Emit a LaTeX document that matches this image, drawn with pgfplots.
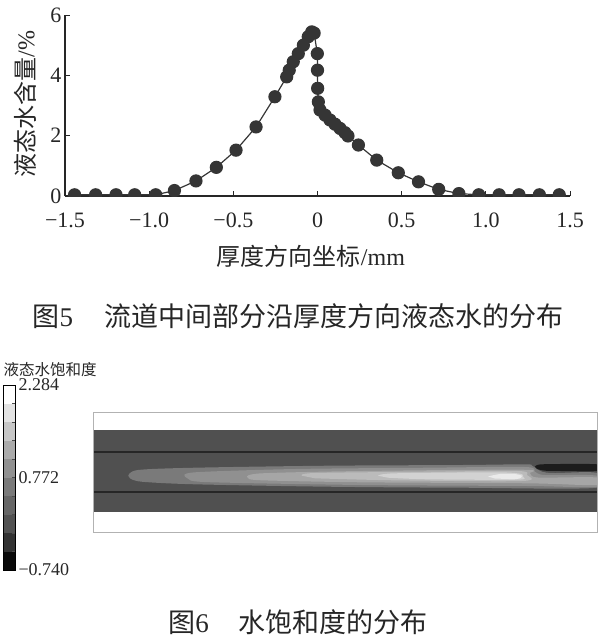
\documentclass[border=0pt]{standalone}
\usepackage{fontspec}
\setmainfont{Liberation Serif}
\newfontfamily\cjk{Noto Sans CJK SC}
\usepackage{pgfplots}
\pgfplotsset{compat=1.18}

\definecolor{mk}{HTML}{353535}
\definecolor{bg}{HTML}{505050}
\definecolor{lvA}{HTML}{7A7A7A}
\definecolor{lvB}{HTML}{909090}
\definecolor{lvC}{HTML}{A6A6A6}
\definecolor{lvD}{HTML}{BBBBBB}
\definecolor{lvE}{HTML}{D2D2D2}
\definecolor{lvF}{HTML}{EAEAEA}
\definecolor{blob}{HTML}{1C1C1C}

\begin{document}
\begin{tikzpicture}
\path[use as bounding box] (0,0) rectangle (600pt,-637pt);

% ---- figure 5: liquid water across the thickness
\begin{axis}[
    at={(65pt,-196pt)}, anchor=south west, scale only axis,
    width=505pt, height=181pt,
    xmin=-1.5, xmax=1.5, ymin=0, ymax=6,
    axis x line*=bottom, axis y line*=left,
    axis line style={line width=1.1pt, black!85},
    tick align=inside, major tick length=5pt,
    tick style={line width=0.9pt, black!85},
    xtick={-1.5,-1,-0.5,0,0.5,1,1.5},
    xticklabels={−1.5,−1.0,−0.5,0,0.5,1.0,1.5},
    ytick={0,2,4,6}, yticklabels={0,2,4,6},
    ticklabel style={font=\fontsize{22}{24}\selectfont, text=black!85},
    xticklabel style={yshift=-13pt},
    xlabel={{\cjk 厚度方向坐标}/mm},
    ylabel={{\cjk 液态水含量}/\%},
    label style={font=\fontsize{24}{26}\selectfont, text=black!85},
    xlabel style={at={(axis description cs:0.487,-0.331)}, anchor=center},
    ylabel style={at={(axis description cs:-0.079,0.508)}, anchor=center},
    clip marker paths=true,
]
\addplot[color=mk, line width=1.2pt, mark=*, mark size=6pt,
         mark options={fill=mk, draw=none}] coordinates {
    (-1.443,0.04) (-1.318,0.04) (-1.197,0.04) (-1.086,0.04) (-0.961,0.04)
    (-0.850,0.18) (-0.722,0.50) (-0.601,0.95) (-0.484,1.52) (-0.365,2.29)
    (-0.253,3.29) (-0.183,3.95) (-0.168,4.17) (-0.144,4.45) (-0.114,4.72)
    (-0.084,5.00) (-0.055,5.28) (-0.034,5.44) (-0.020,5.40) (-0.001,4.72)
    (0.000,4.17) (0.001,3.57) (0.005,3.12) (0.015,2.85) (0.045,2.68)
    (0.074,2.52) (0.104,2.38) (0.134,2.24) (0.163,2.10) (0.181,1.99)
    (0.243,1.69) (0.352,1.19) (0.480,0.77) (0.600,0.47) (0.720,0.22)
    (0.840,0.08) (0.958,0.04) (1.079,0.04) (1.197,0.04) (1.318,0.04)
    (1.436,0.04)
};
\end{axis}

\node[font=\fontsize{27}{30}\selectfont, text=black!85] at (298pt,-316pt)
    {{\cjk 图}5\hspace{1.15em}{\cjk 流道中间部分沿厚度方向液态水的分布}};

% ---- figure 6: saturation field
\node[anchor=west, font=\fontsize{15.5}{17}\selectfont, text=black!85] at (0pt,-370pt)
    {\cjk 液态水饱和度};

\begin{axis}[
    at={(3pt,-570pt)}, anchor=south west, scale only axis,
    width=12pt, height=185pt,
    xmin=0, xmax=1, ymin=-0.740, ymax=2.284,
    xtick=\empty,
    ytick={-0.740,0.772,2.284}, yticklabels={−0.740,0.772,2.284},
    yticklabel pos=right, ytick pos=right,
    minor ytick={-0.4376,-0.1352,0.1672,0.4696,1.0744,1.3768,1.6792,1.9816},
    tick align=inside, major tick length=3pt, minor tick length=3pt,
    tick style={black!70, line width=0.6pt},
    axis on top,
    axis line style={black, line width=0.9pt},
    ticklabel style={font=\fontsize{18}{20}\selectfont, text=black!85},
]
\addplot[fill=black!96, draw=none] coordinates {(0,-0.7400) (1,-0.7400) (1,-0.4376) (0,-0.4376)};
\addplot[fill=black!80, draw=none] coordinates {(0,-0.4376) (1,-0.4376) (1,-0.1352) (0,-0.1352)};
\addplot[fill=black!68, draw=none] coordinates {(0,-0.1352) (1,-0.1352) (1,0.1672) (0,0.1672)};
\addplot[fill=black!60, draw=none] coordinates {(0,0.1672) (1,0.1672) (1,0.4696) (0,0.4696)};
\addplot[fill=black!52, draw=none] coordinates {(0,0.4696) (1,0.4696) (1,0.7720) (0,0.7720)};
\addplot[fill=black!43, draw=none] coordinates {(0,0.7720) (1,0.7720) (1,1.0744) (0,1.0744)};
\addplot[fill=black!33, draw=none] coordinates {(0,1.0744) (1,1.0744) (1,1.3768) (0,1.3768)};
\addplot[fill=black!22, draw=none] coordinates {(0,1.3768) (1,1.3768) (1,1.6792) (0,1.6792)};
\addplot[fill=black!11, draw=none] coordinates {(0,1.6792) (1,1.6792) (1,1.9816) (0,1.9816)};
\addplot[fill=white, draw=none] coordinates {(0,1.9816) (1,1.9816) (1,2.2840) (0,2.2840)};
\end{axis}

\begin{axis}[
    at={(93pt,-532pt)}, anchor=south west, scale only axis,
    width=504pt, height=120pt,
    xmin=93, xmax=597, ymin=412, ymax=532, y dir=reverse,
    ticks=none, axis on top,
    axis line style={black!30, line width=0.8pt},
]
\addplot[fill=bg, draw=none] coordinates {(93,430) (597,430) (597,512) (93,512)};
\addplot[fill=lvA, draw=none, smooth, tension=0.5] coordinates {
    (128.3,475.7) (138,470) (195,467.7) (328,465.7) (462,465) (525,464.3)
    (532,465.7) (542,471.7) (555,473) (597,473) (597,487.7) (462,487.7)
    (328,486.7) (195,484.3) (141.7,481.7) (130,478.3)};
\addplot[fill=lvB, draw=none, smooth, tension=0.5] coordinates {
    (185,476.7) (195,472.3) (295,469) (428,467.7) (525,467) (535,471.7)
    (545,475) (597,475.7) (597,486.7) (528,486) (362,485) (212,482.3) (190,480)};
\addplot[fill=lvC, draw=none, smooth, tension=0.5] coordinates {
    (247,476.7) (262,473.3) (362,471) (522,469.7) (530,473.3) (538,477.5)
    (597,477.5) (597,485) (528,483.3) (362,482.3) (262,480.3) (248.3,478.3)};
\addplot[fill=lvD, draw=none, smooth, tension=0.5] coordinates {
    (302,475.7) (315,473) (428,471.7) (518,471) (527,475) (522,481)
    (395,480.3) (315,478.3)};
\addplot[fill=lvE, draw=none, smooth, tension=0.5] coordinates {
    (378,475.7) (395,473.3) (495,472.3) (520,473.7) (523,476.7) (517,479.7)
    (428,479.3) (388,477.7)};
\addplot[fill=lvF, draw=none, smooth, tension=0.5] coordinates {
    (488,476.5) (500,474) (515,474) (522,476) (517,479) (495,478.5)};
\addplot[fill=blob, draw=none, smooth, tension=0.4] coordinates {
    (535,466.7) (542,464.3) (597,464.3) (597,471) (562,471) (545,470.7) (537,469)};
\addplot[black!85, line width=1.1pt] coordinates {(93,452) (597,452)};
\addplot[black!85, line width=1.1pt] coordinates {(93,492) (597,492)};
\end{axis}

\node[font=\fontsize{27}{30}\selectfont, text=black!85] at (298pt,-622pt)
    {{\cjk 图}6\hspace{1.1em}{\cjk 水饱和度的分布}};
\end{tikzpicture}
\end{document}
